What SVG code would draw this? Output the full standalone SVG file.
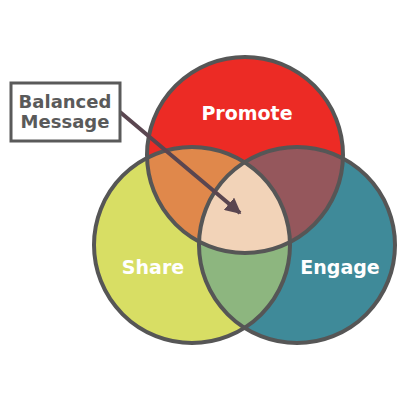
<svg xmlns="http://www.w3.org/2000/svg" width="400" height="400" viewBox="0 0 400 400">
<style>
.ring{fill:none;stroke:#565656;stroke-width:4}
.lbl{font-family:"DejaVu Sans","Liberation Sans",sans-serif;font-weight:700;font-size:19px;fill:#ffffff;text-anchor:middle}
.box{font-family:"DejaVu Sans","Liberation Sans",sans-serif;font-weight:700;font-size:18px;fill:#5a5a5a;text-anchor:middle}
</style>
<defs>
<clipPath id="cP"><circle cx="245" cy="155" r="98"/></clipPath>
<clipPath id="cS"><circle cx="192" cy="245" r="98"/></clipPath>
<clipPath id="cE"><circle cx="297" cy="245" r="98"/></clipPath>
<marker id="ah" viewBox="0 0 10 10" refX="9" refY="5" markerWidth="4" markerHeight="4" orient="auto" markerUnits="strokeWidth"><path d="M0,0 L10,5 L0,10 z" fill="#5a4650"/></marker>
</defs>
<g id="share"><circle cx="192" cy="245" r="98" fill="#d8de64"/></g>
<g id="engage"><circle cx="297" cy="245" r="98" fill="#3f8a99"/></g>
<g id="promote"><circle cx="245" cy="155" r="98" fill="#ec2b25"/></g>
<g id="overlaps">
<circle cx="192" cy="245" r="98" fill="#e0884b" clip-path="url(#cP)"/>
<circle cx="297" cy="245" r="98" fill="#95575c" clip-path="url(#cP)"/>
<circle cx="297" cy="245" r="98" fill="#8db67f" clip-path="url(#cS)"/>
<g clip-path="url(#cP)"><circle cx="297" cy="245" r="98" fill="#f2d3b8" clip-path="url(#cS)"/></g>
</g>
<g id="rings">
<circle class="ring" cx="192" cy="245" r="98"/>
<circle class="ring" cx="297" cy="245" r="98"/>
<circle class="ring" cx="245" cy="155" r="98"/>
</g>
<g id="labels">
<text class="lbl" x="247" y="120">Promote</text>
<text class="lbl" x="153" y="274">Share</text>
<text class="lbl" x="340" y="274">Engage</text>
</g>
<g id="connectors">
<line x1="120" y1="112" x2="240" y2="213" stroke="#5a4650" stroke-width="4" marker-end="url(#ah)"/>
</g>
<g id="balanced">
<rect x="11" y="83" width="109" height="58" fill="#ffffff" stroke="#5a5a5a" stroke-width="3"/>
<text class="box" x="65" y="108">Balanced</text>
<text class="box" x="65" y="128">Message</text>
</g>
</svg>
